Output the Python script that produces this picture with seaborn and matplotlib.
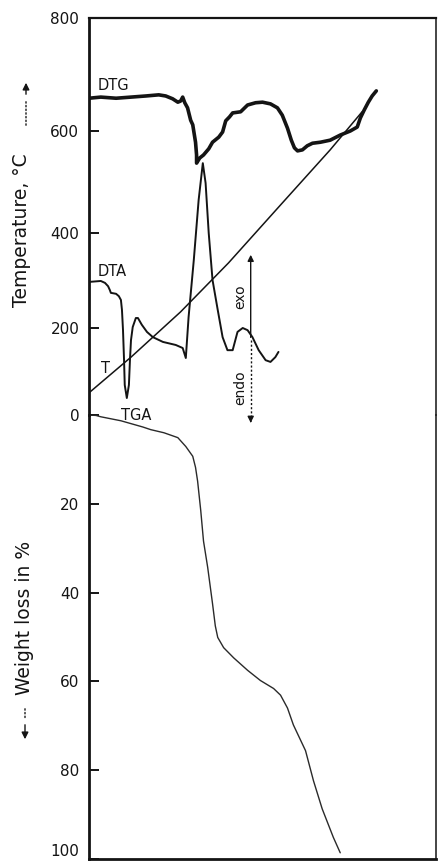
import numpy as np
import matplotlib
matplotlib.use("Agg")
import matplotlib.pyplot as plt
import seaborn as sns

sns.set_theme(style="ticks")
plt.rcParams["font.family"] = ["DejaVu Sans"]

INK = "#141414"

# x has no scale on the original: arbitrary time units 0..100
# DTG trace (plotted on the temperature panel, deg C)
dtg_x = [0, 3.4, 7.8, 12.1, 16.4, 20.1, 22.1, 24.1, 25.6, 26.4, 27.0, 27.6, 28.4,
         29.3, 29.9, 30.7, 31.0, 31.0, 31.9, 33.0, 34.5, 35.6, 37.4, 38.5, 39.4,
         40.5, 41.4, 43.7, 45.7, 48.0, 50.0, 52.3, 54.3, 55.7, 57.2, 58.3, 59.2,
         60.1, 61.5, 62.9, 64.4, 66.7, 69.5, 72.4, 75.3, 77.3, 78.2, 79.3, 80.5,
         81.6, 82.8]
dtg_t = [658, 660, 658, 660, 662, 664, 662, 657, 651, 653, 660, 650, 641,
         619, 611, 578, 553, 537, 547, 553, 565, 578, 588, 598, 618,
         625, 632, 634, 646, 650, 651, 648, 641, 628, 605, 582, 567,
         561, 563, 571, 576, 578, 582, 592, 600, 607, 623, 637, 651,
         662, 671]

# DTA trace
dta_x = [0, 3.4, 4.6, 5.5, 6.0, 6.3, 7.8, 8.6, 9.2, 9.5, 9.8, 10.1, 10.3, 10.9,
         11.5, 11.8, 12.1, 12.6, 13.5, 14.1, 15.2, 16.7, 18.4, 21.3, 25.0, 27.0,
         27.9, 28.7, 30.2, 31.6, 32.8, 33.6, 34.5, 35.6, 37.1, 38.5, 39.9, 41.4,
         42.8, 44.3, 45.7, 47.1, 48.9, 50.9, 52.3, 53.7, 54.6]
dta_t = [297, 299, 295, 288, 280, 274, 272, 267, 259, 238, 195, 126, 69, 39,
         69, 126, 172, 202, 221, 221, 207, 191, 179, 168, 161, 154,
         131, 223, 343, 465, 537, 498, 400, 301, 238, 179, 149, 149,
         191, 200, 195, 179, 149, 126, 122, 133, 145]

# furnace temperature T
temp_x = [0, 12.1, 26.4, 40.2, 55.2, 69.5, 78.7]
temp_t = [51, 133, 234, 337, 455, 563, 634]

# TGA, weight loss in %
tga_x = [0, 2.0, 3.4, 9.2, 15.5, 17.8, 21.6, 25.6, 27.9, 29.9, 30.7, 31.3, 32.2,
         33.0, 34.2, 35.6, 36.4, 37.1, 38.8, 41.7, 45.7, 49.4, 53.2, 55.2, 57.2,
         58.9, 62.4, 64.7, 67.2, 70.4, 72.4]
tga_w = [0, 0.1, 0.4, 1.3, 2.7, 3.3, 4.0, 5.1, 7.1, 9.3, 11.8, 14.9, 21.5,
         28.4, 34.3, 42.5, 47.5, 50.1, 52.4, 54.7, 57.5, 59.8, 61.6, 63.1, 66.0,
         69.8, 75.6, 82.4, 88.7, 95.1, 98.6]

temp_ticks = [0, 200, 400, 600, 800]
weight_ticks = [20, 40, 60, 80, 100]

# the printed temperature axis is not evenly spaced; follow its tick spacing
scale_t = [-400, 0, 200, 400, 600, 800, 1600]
scale_d = [-174, 0, 87, 182, 284, 397, 849]


def t_fwd(v):
    return np.interp(v, scale_t, scale_d)


def t_inv(v):
    return np.interp(v, scale_d, scale_t)


W, H = 439, 863
L, R, TOP, MID, BOT = 89, 436, 18, 415, 859

fig = plt.figure(figsize=(W / 100, H / 100), dpi=100)
fig.patch.set_facecolor("white")
ax_t = fig.add_axes([L / W, 1 - MID / H, (R - L) / W, (MID - TOP) / H])
ax_w = fig.add_axes([L / W, 1 - BOT / H, (R - L) / W, (BOT - MID) / H])

for ax in (ax_t, ax_w):
    ax.set_facecolor("none")
    ax.set_xlim(0, 100)
    ax.set_xticks([])
    for s in ax.spines.values():
        s.set_color(INK)
    ax.spines["left"].set_linewidth(2.0)
    ax.spines["right"].set_linewidth(1.1)
    ax.tick_params(axis="y", direction="in", length=7, width=1.4,
                   labelsize=11, pad=7, colors=INK)

ax_t.set_yscale("function", functions=(t_fwd, t_inv))
ax_t.set_ylim(0, 800)
ax_t.set_yticks(temp_ticks)
ax_t.spines["bottom"].set_visible(False)
ax_t.spines["top"].set_linewidth(1.6)

ax_w.set_ylim(100, 0)
ax_w.set_yticks(weight_ticks)
ax_w.spines["top"].set_visible(False)
ax_w.spines["bottom"].set_linewidth(2.0)
ax_w.get_yticklabels()[-1].set_va("bottom")

sns.lineplot(x=dtg_x, y=dtg_t, ax=ax_t, color=INK, lw=2.6, sort=False, estimator=None)
sns.lineplot(x=dta_x, y=dta_t, ax=ax_t, color=INK, lw=1.4, sort=False, estimator=None)
sns.lineplot(x=temp_x, y=temp_t, ax=ax_t, color=INK, lw=1.1, sort=False, estimator=None)
sns.lineplot(x=tga_x, y=tga_w, ax=ax_w, color="#2a2a2a", lw=1.0, sort=False, estimator=None)

for ax in (ax_t, ax_w):
    ax.set_xlabel("")
    ax.set_ylabel("")

lab = dict(fontsize=10.5, color=INK, va="center", ha="left")
ax_t.text(2.6, 680, "DTG", **lab)
ax_t.text(2.6, 318, "DTA", **lab)
ax_t.text(3.4, 108, "T", **lab)
ax_w.text(9.2, 0, "TGA", **lab)

# exo / endo direction arrow
ax_t.annotate("", xy=(46.6, 360), xytext=(46.6, 172), annotation_clip=False,
              arrowprops=dict(arrowstyle="-|>", color=INK, lw=1.0, mutation_scale=9))
ax_t.plot([46.6, 46.6], [172, -6], color=INK, lw=1.0, ls=(0, (1.5, 1.5)), clip_on=False)
ax_t.annotate("", xy=(46.6, -18), xytext=(46.6, -6), annotation_clip=False,
              arrowprops=dict(arrowstyle="-|>", color=INK, lw=1.0, mutation_scale=9))
ax_t.text(43.7, 265, "exo", rotation=90, fontsize=10, color=INK, ha="center", va="center")
ax_t.text(43.7, 62, "endo", rotation=90, fontsize=10, color=INK, ha="center", va="center")

# axis titles with direction arrows
fig.text(22 / W, 1 - 230 / H, "Temperature, °C", rotation=90, fontsize=13.5,
         color=INK, ha="center", va="center")
fig.text(25 / W, 1 - 618 / H, "Weight loss in %", rotation=90, fontsize=13.5,
         color=INK, ha="center", va="center")

ff = "figure fraction"
fig_ax = ax_t
fig_ax.annotate("", xy=(26 / W, 1 - 80 / H), xytext=(26 / W, 1 - 97 / H),
                xycoords=ff, textcoords=ff, annotation_clip=False,
                arrowprops=dict(arrowstyle="-|>", color=INK, lw=1.0, mutation_scale=10))
fig_ax.annotate("", xy=(26 / W, 1 - 97 / H), xytext=(26 / W, 1 - 128 / H),
                xycoords=ff, textcoords=ff, annotation_clip=False,
                arrowprops=dict(arrowstyle="-", color=INK, lw=1.0, ls=":"))
fig_ax.annotate("", xy=(25 / W, 1 - 722 / H), xytext=(25 / W, 1 - 706 / H),
                xycoords=ff, textcoords=ff, annotation_clip=False,
                arrowprops=dict(arrowstyle="-", color=INK, lw=1.0, ls=":"))
fig_ax.annotate("", xy=(25 / W, 1 - 742 / H), xytext=(25 / W, 1 - 722 / H),
                xycoords=ff, textcoords=ff, annotation_clip=False,
                arrowprops=dict(arrowstyle="-|>", color=INK, lw=1.0, mutation_scale=10))

fig.savefig("out.png", dpi=100, facecolor="white")
